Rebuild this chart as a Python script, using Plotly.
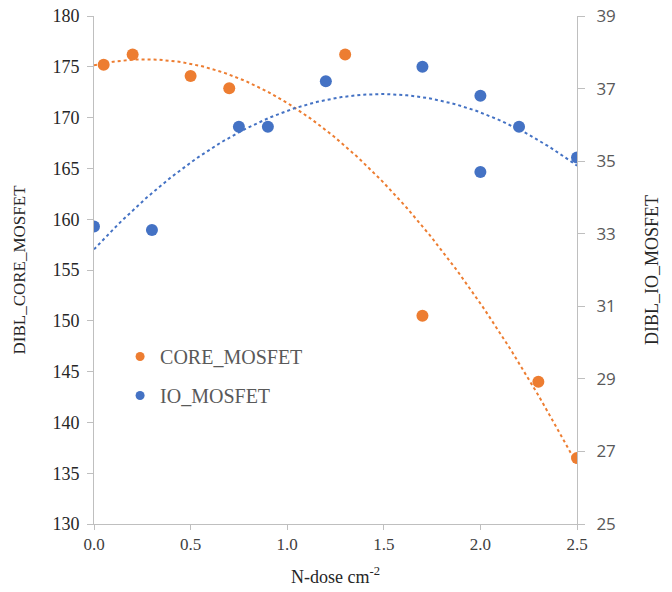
import numpy as np
import plotly.graph_objects as go

# N-dose values and DIBL measurements
core_dose = [0.05, 0.2, 0.5, 0.7, 1.3, 1.7, 2.3, 2.5]
core_dibl = [175.2, 176.2, 174.1, 172.9, 176.2, 150.5, 144.0, 136.5]

io_dose = [0.0, 0.3, 0.75, 0.9, 1.2, 1.7, 2.0, 2.0, 2.2, 2.5]
io_dibl = [33.2, 33.1, 35.95, 35.95, 37.2, 37.6, 36.8, 34.7, 35.95, 35.1]

x_ticks = [0.0, 0.5, 1.0, 1.5, 2.0, 2.5]
left_ticks = [130, 135, 140, 145, 150, 155, 160, 165, 170, 175, 180]
right_ticks = [25, 27, 29, 31, 33, 35, 37, 39]

ORANGE = "#ED7D31"
BLUE = "#4472C4"
AXIS = "#BFBFBF"
SERIF = "Liberation Serif, Times New Roman, serif"
SANS = "Open Sans, Liberation Sans, sans-serif"

# second-order polynomial trendlines fitted to each series
xs = np.linspace(0.0, 2.5, 200)
core_fit = np.polyval(np.polyfit(core_dose, core_dibl, 2), xs)
io_fit = np.polyval(np.polyfit(io_dose, io_dibl, 2), xs)

fig = go.Figure()

fig.add_trace(go.Scatter(x=xs, y=core_fit, mode="lines", yaxis="y",
                         line=dict(color=ORANGE, width=2, dash="dot"),
                         showlegend=False, hoverinfo="skip"))
fig.add_trace(go.Scatter(x=xs, y=io_fit, mode="lines", yaxis="y2",
                         line=dict(color=BLUE, width=2, dash="dot"),
                         showlegend=False, hoverinfo="skip"))

fig.add_trace(go.Scatter(x=core_dose, y=core_dibl, mode="markers", yaxis="y",
                         marker=dict(color=ORANGE, size=12),
                         name="CORE_MOSFET", showlegend=False))
fig.add_trace(go.Scatter(x=io_dose, y=io_dibl, mode="markers", yaxis="y2",
                         marker=dict(color=BLUE, size=12),
                         name="IO_MOSFET", showlegend=False))

# legend entries with smaller symbols
fig.add_trace(go.Scatter(x=[None], y=[None], mode="markers", yaxis="y",
                         marker=dict(color=ORANGE, size=9),
                         name="CORE_MOSFET", legendgroup="core"))
fig.add_trace(go.Scatter(x=[None], y=[None], mode="markers", yaxis="y2",
                         marker=dict(color=BLUE, size=9),
                         name="IO_MOSFET", legendgroup="io"))

fig.update_layout(
    width=672, height=592,
    margin=dict(l=94, r=95, t=16, b=68, autoexpand=False),
    paper_bgcolor="white", plot_bgcolor="white",
    showlegend=True,
    legend=dict(x=0.054, y=0.368, xanchor="left", yanchor="top",
                bgcolor="rgba(0,0,0,0)", tracegroupgap=10,
                font=dict(family=SERIF, size=20, color="#595959")),
    xaxis=dict(range=[0, 2.5], tickvals=x_ticks, tickformat=".1f",
               automargin=False,
               showline=True, linecolor=AXIS, linewidth=1,
               ticks="outside", ticklen=5, tickcolor=AXIS,
               showgrid=False, zeroline=False,
               tickfont=dict(family=SERIF, size=17, color="#404040"),
               title=dict(text="N-dose cm<sup>-2</sup>", standoff=16,
                          font=dict(family=SERIF, size=18, color="#262626"))),
    yaxis=dict(range=[130, 180], tickvals=left_ticks,
               automargin=False,
               showline=True, linecolor=AXIS, linewidth=1,
               ticks="outside", ticklen=6, tickcolor=AXIS,
               ticklabelstandoff=4,
               showgrid=False, zeroline=False,
               tickfont=dict(family=SERIF, size=18, color="#262626"),
               title=dict(text="DIBL_CORE_MOSFET", standoff=22,
                          font=dict(family=SERIF, size=17, color="#262626"))),
    yaxis2=dict(range=[25, 39], tickvals=right_ticks, overlaying="y",
                side="right", anchor="x", automargin=False,
                showline=True, linecolor=AXIS, linewidth=1,
                ticks="outside", ticklen=7, tickcolor=AXIS,
                ticklabelstandoff=8,
                showgrid=False, zeroline=False,
                tickfont=dict(family=SANS, size=17, color="#595959"),
                title=dict(text="DIBL_IO_MOSFET", standoff=30,
                           font=dict(family=SERIF, size=18, color="#262626"))),
)

fig.write_html("out.html")
